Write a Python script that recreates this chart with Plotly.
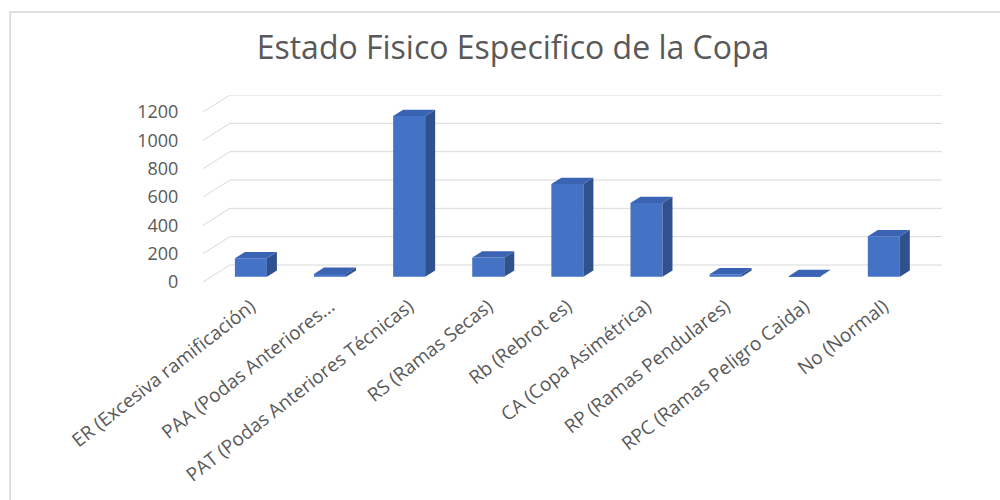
import plotly.graph_objects as go

# Crown condition categories and counts
categories = [
    "ER (Excesiva ramificación)",
    "PAA (Podas Anteriores...",
    "PAT (Podas Anteriores Técnicas)",
    "RS (Ramas Secas)",
    "Rb (Rebrot es)",
    "CA (Copa Asimétrica)",
    "RP (Ramas Pendulares)",
    "RPC (Ramas Peligro Caida)",
    "No (Normal)",
]
values = [130, 20, 1135, 135, 655, 520, 18, 4, 285]
y_ticks = [0, 200, 400, 600, 800, 1000, 1200]

TITLE = "Estado Fisico Especifico de la Copa"
FONT = "Open Sans"
TEXT_COLOR = "#595959"
GRID_COLOR = "#d9d9d9"
FRONT_COLOR = "#4472C4"
SIDE_COLOR = "#2F528F"
TOP_COLOR = "#3A63B3"

# Oblique projection used to fake the 3-D look
depth_dx = 0.341      # x-units shift from front plane to back wall
depth_dy = 120.0      # y-units shift from front plane to back wall
front_pos = 0.31      # depth fraction where the bar faces sit
bar_depth = 0.37      # depth fraction occupied by each bar
bar_w = 0.405         # bar face width in category units

n = len(categories)
xc = [i + front_pos * depth_dx for i in range(n)]
base = front_pos * depth_dy
ddx = bar_depth * depth_dx
ddy = bar_depth * depth_dy

fig = go.Figure()

# front faces
fig.add_trace(go.Bar(
    x=xc, y=values, base=[base] * n, width=bar_w,
    marker=dict(color=FRONT_COLOR, line=dict(width=0)),
    hoverinfo="skip", showlegend=False,
))

# side and top faces derived from the same values
side_x, side_y, top_x, top_y = [], [], [], []
for x, v in zip(xc, values):
    xl, xr = x - bar_w / 2, x + bar_w / 2
    yt = base + v
    side_x += [xr, xr + ddx, xr + ddx, xr, xr, None]
    side_y += [base, base + ddy, yt + ddy, yt, base, None]
    top_x += [xl, xr, xr + ddx, xl + ddx, xl, None]
    top_y += [yt, yt, yt + ddy, yt + ddy, yt, None]

fig.add_trace(go.Scatter(
    x=side_x, y=side_y, mode="lines", fill="toself",
    fillcolor=SIDE_COLOR, line=dict(width=0, color=SIDE_COLOR),
    hoverinfo="skip", showlegend=False,
))
fig.add_trace(go.Scatter(
    x=top_x, y=top_y, mode="lines", fill="toself",
    fillcolor=TOP_COLOR, line=dict(width=0, color=TOP_COLOR),
    hoverinfo="skip", showlegend=False,
))

# gridlines: diagonal on the side wall, horizontal on the back wall
x_left = -0.5
x_right = n - 0.5
for v in y_ticks:
    path = (f"M {x_left},{v} L {x_left + depth_dx},{v + depth_dy} "
            f"L {x_right + depth_dx},{v + depth_dy}")
    fig.add_shape(type="path", path=path, xref="x", yref="y",
                  line=dict(color=GRID_COLOR, width=1), layer="below")

# chart frame
fig.add_shape(type="rect", xref="paper", yref="paper",
              x0=-0.261, x1=1.2, y0=-1.5, y1=1.444,
              line=dict(color="#d6d6d6", width=1.5), layer="below")

fig.update_layout(
    width=1000, height=500, autosize=False,
    margin=dict(l=203, r=58, t=95, b=218, autoexpand=False),
    paper_bgcolor="white", plot_bgcolor="white",
    font=dict(family=FONT, color=TEXT_COLOR),
    title=dict(text=TITLE, x=0.513, xanchor="center", xref="container",
               y=0.904, yanchor="middle", yref="container",
               font=dict(family=FONT, size=32, color=TEXT_COLOR)),
    showlegend=False,
    xaxis=dict(
        range=[x_left, x_right + depth_dx],
        tickvals=xc, ticktext=categories, tickangle=-38,
        tickfont=dict(family=FONT, size=19, color=TEXT_COLOR),
        showgrid=False, zeroline=False, showline=False,
        ticks="outside", ticklen=5, tickcolor="rgba(0,0,0,0)",
        fixedrange=True,
    ),
    yaxis=dict(
        range=[0, 1200 + depth_dy],
        tickvals=y_ticks, ticktext=[str(t) for t in y_ticks],
        tickfont=dict(family=FONT, size=18, color=TEXT_COLOR),
        showgrid=False, zeroline=False, showline=False,
        ticks="outside", ticklen=20, tickcolor="rgba(0,0,0,0)",
        fixedrange=True,
    ),
)

fig.write_html("out.html")
